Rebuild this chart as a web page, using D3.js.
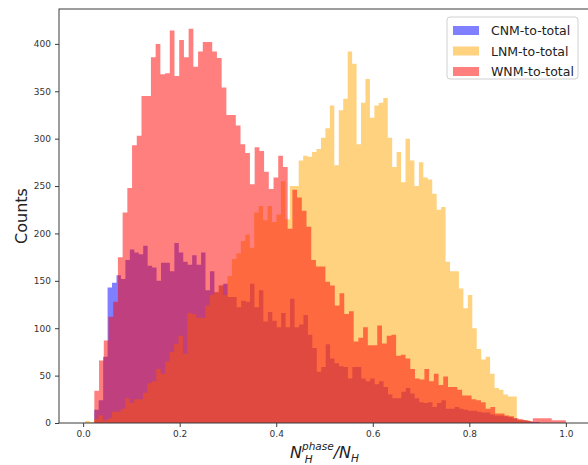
<!DOCTYPE html>
<html>
<head>
<meta charset="utf-8">
<script src="https://cdn.jsdelivr.net/npm/d3@7"></script>
<style>
  html, body { margin: 0; padding: 0; background: #fff; }
  svg { display: block; }
  text { font-family: "DejaVu Sans", sans-serif; }
</style>
</head>
<body>
<svg id="chart" width="588" height="465"></svg>
<script>
// Histogram ranges [min, max] and counts (100 bins each) for the three phase fractions
const seriesNames = ["CNM-to-total", "LNM-to-total", "WNM-to-total"];
const seriesColors = ["#0000ff", "#ffa500", "#ff0000"];

const cnmRange = [0.023, 0.945];
const cnmCounts = [
  14, 24, 70, 143, 148, 156, 152, 172, 183, 180,
  178, 187, 166, 164, 150, 169, 169, 160, 190, 180,
  170, 167, 177, 167, 180, 140, 160, 138, 145, 147,
  133, 133, 122, 129, 128, 147, 122, 140, 107, 117,
  108, 101, 116, 101, 131, 101, 104, 114, 93, 79,
  54, 59, 83, 68, 63, 60, 59, 47, 59, 59,
  47, 44, 47, 41, 44, 38, 30, 26, 26, 33,
  37, 31, 26, 22, 21, 22, 17, 21, 24, 15,
  15, 17, 15, 14, 13, 13, 12, 11, 11, 9,
  8, 8, 7, 6, 5, 3, 3, 2, 1, 1
];

const lnmRange = [0.004, 0.926];
const lnmCounts = [
  2, 1, 4, 8, 3, 5, 12, 12, 15, 26,
  21, 25, 25, 32, 42, 44, 57, 52, 65, 75,
  83, 92, 73, 116, 115, 111, 111, 124, 135, 138,
  145, 135, 155, 173, 179, 192, 199, 185, 222, 229,
  214, 229, 212, 220, 255, 215, 250, 250, 277, 282,
  281, 286, 289, 301, 311, 335, 272, 330, 342, 392,
  379, 294, 338, 363, 322, 335, 338, 343, 301, 270,
  286, 254, 300, 277, 250, 275, 259, 257, 242, 225,
  228, 170, 160, 160, 142, 121, 135, 100, 78, 67,
  70, 52, 37, 35, 30, 28, 28, 4, 3, 3
];

const wnmRange = [0.0232, 1.0];
const wnmCounts = [
  34, 66, 87, 112, 128, 175, 222, 248, 293, 303,
  345, 345, 386, 400, 368, 369, 414, 366, 404, 386,
  416, 376, 392, 402, 402, 392, 385, 354, 325, 325,
  314, 294, 285, 252, 291, 287, 265, 247, 259, 282,
  270, 205, 246, 238, 224, 207, 172, 165, 165, 149,
  145, 124, 137, 115, 118, 86, 90, 101, 82, 82,
  103, 84, 92, 93, 71, 72, 68, 57, 47, 46,
  57, 44, 52, 40, 49, 38, 38, 35, 29, 29,
  25, 24, 22, 15, 17, 10, 10, 8, 7, 5,
  4, 3, 2, 5, 5, 5, 5, 3, 3, 3
];

const xTicks = [0.0, 0.2, 0.4, 0.6, 0.8, 1.0];
const yTicks = [0, 50, 100, 150, 200, 250, 300, 350, 400];

const series = [
  { name: seriesNames[0], color: seriesColors[0], range: cnmRange, counts: cnmCounts },
  { name: seriesNames[1], color: seriesColors[1], range: lnmRange, counts: lnmCounts },
  { name: seriesNames[2], color: seriesColors[2], range: wnmRange, counts: wnmCounts }
];

const svg = d3.select("#chart");
const plot = { left: 59, right: 590, top: 9, bottom: 423 };

const x = d3.scaleLinear().domain([-0.05, 1.05]).range([plot.left, plot.right]);
const yMax = 1.05 * d3.max(series, s => d3.max(s.counts));
const y = d3.scaleLinear().domain([0, yMax]).range([plot.bottom, plot.top]);

// Each histogram is one stepped area built from its bin edges
const area = d3.area()
  .x(d => x(d[0]))
  .y0(y(0))
  .y1(d => y(d[1]))
  .curve(d3.curveStepAfter);

series.forEach(s => {
  const n = s.counts.length;
  const step = (s.range[1] - s.range[0]) / n;
  const pts = s.counts.map((c, i) => [s.range[0] + i * step, c]);
  pts.push([s.range[1], s.counts[n - 1]]);
  svg.append("path")
    .attr("d", area(pts))
    .attr("fill", s.color)
    .attr("fill-opacity", 0.5);
});

// Axes frame
svg.append("rect")
  .attr("x", plot.left).attr("y", plot.top)
  .attr("width", plot.right - plot.left).attr("height", plot.bottom - plot.top)
  .attr("fill", "none").attr("stroke", "#3a3a3a").attr("stroke-width", 1);

const xAxis = svg.append("g")
  .attr("transform", `translate(0,${plot.bottom})`)
  .call(d3.axisBottom(x).tickValues(xTicks).tickFormat(d3.format(".1f")).tickSize(4).tickPadding(4));
const yAxis = svg.append("g")
  .attr("transform", `translate(${plot.left},0)`)
  .call(d3.axisLeft(y).tickValues(yTicks).tickFormat(d3.format("d")).tickSize(4).tickPadding(4));

[xAxis, yAxis].forEach(g => {
  g.select(".domain").remove();
  g.selectAll(".tick line").attr("stroke", "#3a3a3a");
  g.selectAll(".tick text")
    .attr("fill", "#333")
    .style("font-family", "'DejaVu Sans', sans-serif")
    .style("font-size", "9px");
});

// Axis titles
svg.append("text")
  .attr("transform", `translate(21,${(plot.top + plot.bottom) / 2}) rotate(-90)`)
  .attr("text-anchor", "middle")
  .attr("dominant-baseline", "central")
  .attr("fill", "#222")
  .style("font-size", "16px")
  .text("Counts");

// x title: N_H^phase / N_H, with the superscript and subscript stacked after the first N
const xl = svg.append("text")
  .attr("x", (plot.left + plot.right) / 2)
  .attr("y", 458)
  .attr("text-anchor", "middle")
  .attr("fill", "#222")
  .style("font-size", "16px")
  .style("font-style", "italic");
xl.append("tspan").text("N");
xl.append("tspan").attr("dy", -8).style("font-size", "10.5px").text("phase");
xl.append("tspan").attr("dx", -29).attr("dy", 13).style("font-size", "10.5px").text("H");
xl.append("tspan").attr("dx", 21).attr("dy", -5).text("/N");
xl.append("tspan").attr("dy", 4).style("font-size", "10.5px").text("H");

// Legend
const lg = svg.append("g").attr("transform", "translate(447,17)");
lg.append("rect")
  .attr("width", 131).attr("height", 62).attr("rx", 3)
  .attr("fill", "#fff").attr("fill-opacity", 0.8)
  .attr("stroke", "#d0d0d0").attr("stroke-width", 1);
series.forEach((s, i) => {
  const row = lg.append("g").attr("transform", `translate(6,${9 + i * 20.5})`);
  row.append("rect")
    .attr("width", 26).attr("height", 9)
    .attr("fill", s.color).attr("fill-opacity", 0.5);
  row.append("text")
    .attr("x", 38).attr("y", 4.5)
    .attr("dominant-baseline", "central")
    .attr("fill", "#222")
    .style("font-size", "12.5px")
    .text(s.name);
});
</script>
</body>
</html>
